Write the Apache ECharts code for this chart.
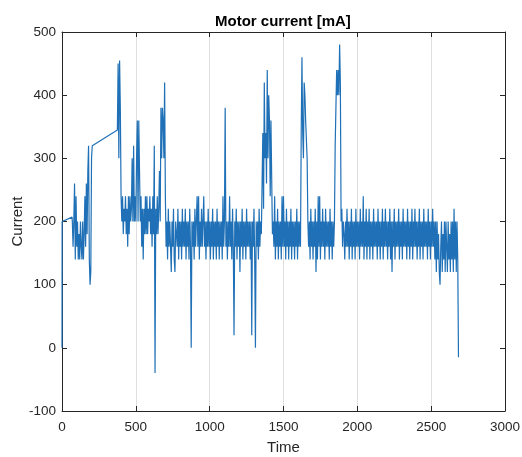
<!DOCTYPE html>
<html>
<head>
<meta charset="utf-8">
<title>Motor current</title>
<script src="https://cdn.jsdelivr.net/npm/echarts@6.0.0/dist/echarts.min.js"></script>
<style>
  html, body { margin: 0; padding: 0; background: #ffffff; }
  #motorCurrentPhoto { width: 522px; height: 457px; }
</style>
</head>
<body>
<div id="motorCurrentPhoto"></div>
<script>
/*电机电流数据*/
var headT = [0, 1, 68];            // first samples before the dense part
var headV = [0, 200, 207];
var stepT = 5;                     // sample spacing of the dense parts

var startA = 70;                   // t = 70 .. 205
var partA = [200,160,200,260,140,240,160,200,140,180,140,200,160,140,200,140,180,240,160,260,
             180,280,320,140,100,120,300,320];

var startB = 375;                  // t = 375 .. 2685 (gap before it)
var partB = [
  345,450,300,455,380,240,200,240,180,220,200,240,180,220,160,240,180,240,200,220,
  300,200,320,200,240,200,300,360,200,360,280,200,240,160,220,140,220,180,240,180,
  240,180,220,200,240,180,220,160,240,180,320,-40,220,180,240,180,220,280,200,380,
  300,380,360,300,420,240,160,200,140,220,160,200,160,120,200,160,220,140,120,200,
  200,160,220,140,200,160,200,140,220,160,200,160,220,140,200,160,200,140,220,160,
  0,200,160,200,140,220,160,200,240,160,240,140,200,160,220,160,200,240,160,200,
  140,200,160,220,160,200,140,200,160,220,140,200,160,200,140,220,160,200,140,200,
  160,200,140,240,160,200,380,160,200,140,200,160,240,160,200,140,220,160,20,200,
  160,220,140,200,160,200,120,200,160,220,140,200,160,200,140,220,160,200,160,200,
  140,200,20,200,160,220,140,0,200,160,200,140,220,160,200,180,260,340,220,420,
  300,340,260,440,300,400,360,240,360,360,180,200,160,240,140,200,160,220,140,200,
  160,200,140,240,160,240,160,200,140,220,160,200,140,200,160,220,140,200,160,200,
  140,200,160,220,140,200,160,200,160,340,460,340,300,420,400,360,360,300,200,160,
  200,140,220,160,200,140,200,160,220,120,200,140,240,160,240,140,200,160,220,160,
  200,140,220,160,200,160,200,140,220,160,200,140,200,160,200,320,380,440,400,440,
  400,480,420,200,220,160,200,180,140,200,160,220,160,200,140,200,160,220,140,200,
  160,200,140,220,160,200,160,200,140,220,160,200,160,240,140,200,160,220,140,200,
  160,220,140,200,160,200,140,220,160,200,160,200,140,220,160,200,140,200,160,220,
  140,200,160,220,160,200,140,200,160,220,140,200,120,200,160,220,140,200,160,200,
  160,220,140,200,160,200,140,220,160,200,160,200,140,220,160,200,140,200,160,220,
  140,200,160,220,160,200,140,200,160,220,140,200,160,200,140,220,160,200,160,200,
  140,220,160,200,140,200,160,220,160,200,140,200,120,200,140,180,120,100,160,200,
  120,180,140,200,120,200,160,120,200,140,180,120,200,140,200,120,220,140,200,120,
  200,140,-15
];

var xTicks = [0, 3000, 500];       // min, max, interval
var yTicks = [-100, 500, 100];

var lineData = [];
for (var i = 0; i < headT.length; i++) lineData.push([headT[i], headV[i]]);
for (var i = 0; i < partA.length; i++) lineData.push([startA + i * stepT, partA[i]]);
for (var i = 0; i < partB.length; i++) lineData.push([startB + i * stepT, partB[i]]);

var currentChart = echarts.init(document.getElementById('motorCurrentPhoto'));
var fontName = 'Liberation Sans, Arial, sans-serif';
var axisColor = '#262626';
var plainNum = function (v) { return String(v); };   // no thousands separator

var currentOption = {
    backgroundColor: '#ffffff',
    animation: false,
    title: {
        text: 'Motor current [mA]',
        left: 210,                 // centred over the plot box, not the page
        top: 9,
        textStyle: { fontFamily: fontName, fontSize: 15, fontWeight: 'bold', color: '#000000' }
    },
    grid: { left: 62, right: 17, top: 32, bottom: 46, containLabel: false, outerBoundsMode: 'none' },
    xAxis: [{
        type: 'value',
        min: xTicks[0], max: xTicks[1], interval: xTicks[2],
        name: 'Time',
        nameLocation: 'middle',
        nameGap: 29,
        nameMoveOverlap: false,
        nameTextStyle: { fontFamily: fontName, fontSize: 15, color: axisColor },
        axisLine: { show: true, onZero: false, lineStyle: { color: axisColor, width: 1 } },
        axisTick: { show: true, inside: true, length: 5, lineStyle: { color: axisColor } },
        axisLabel: { margin: 9, fontFamily: fontName, fontSize: 13.5, color: axisColor, formatter: plainNum },
        splitLine: { show: true, lineStyle: { color: '#dedede', width: 1 } }
    }, {
        type: 'value',
        position: 'top',
        min: xTicks[0], max: xTicks[1], interval: xTicks[2],
        axisLine: { show: true, onZero: false, lineStyle: { color: axisColor, width: 1 } },
        axisTick: { show: true, inside: true, length: 5, lineStyle: { color: axisColor } },
        axisLabel: { show: false },
        splitLine: { show: false }
    }],
    yAxis: [{
        type: 'value',
        min: yTicks[0], max: yTicks[1], interval: yTicks[2],
        name: 'Current',
        nameLocation: 'middle',
        nameGap: 37,
        nameMoveOverlap: false,
        nameTextStyle: { fontFamily: fontName, fontSize: 15, color: axisColor },
        axisLine: { show: true, onZero: false, lineStyle: { color: axisColor, width: 1 } },
        axisTick: { show: true, inside: true, length: 5, lineStyle: { color: axisColor } },
        axisLabel: { margin: 6, fontFamily: fontName, fontSize: 13.5, color: axisColor, formatter: plainNum },
        splitLine: { show: false }
    }, {
        type: 'value',
        position: 'right',
        min: yTicks[0], max: yTicks[1], interval: yTicks[2],
        axisLine: { show: true, onZero: false, lineStyle: { color: axisColor, width: 1 } },
        axisTick: { show: true, inside: true, length: 5, lineStyle: { color: axisColor } },
        axisLabel: { show: false },
        splitLine: { show: false }
    }],
    series: [{
        name: 'Current',
        type: 'line',
        xAxisIndex: 0,
        yAxisIndex: 0,
        showSymbol: false,
        symbol: 'none',
        data: lineData,
        lineStyle: { color: '#1f70b6', width: 1.2 }
    }]
};
currentChart.setOption(currentOption);
</script>
</body>
</html>
